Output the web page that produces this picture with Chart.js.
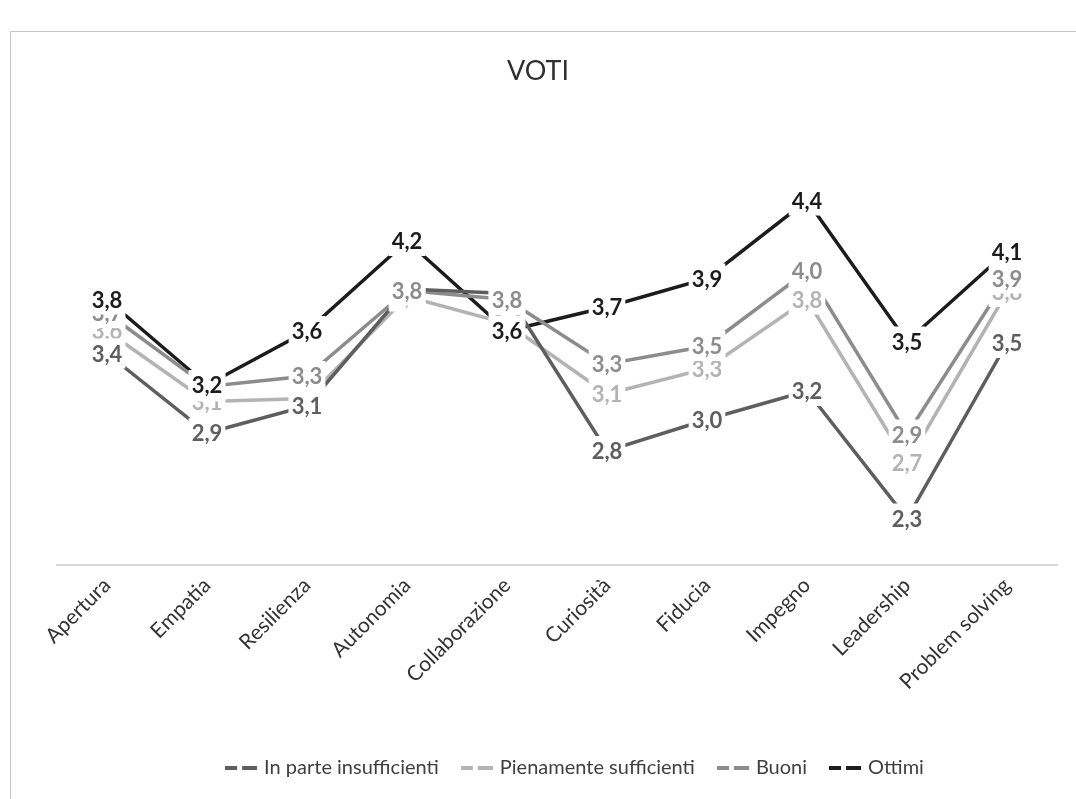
<!DOCTYPE html>
<html>
<head>
<meta charset="utf-8">
<title>VOTI</title>
<script src="https://cdn.jsdelivr.net/npm/chart.js@4.4.1/dist/chart.umd.min.js"></script>
<style>
  html, body { margin: 0; padding: 0; background: #fff; }
  #wrap { width: 1076px; height: 799px; position: relative; }
</style>
</head>
<body>
<div id="wrap"><canvas id="votiChart"></canvas></div>
<script>
const categorie = ['Apertura', 'Empatia', 'Resilienza', 'Autonomia', 'Collaborazione', 'Curiosità', 'Fiducia', 'Impegno', 'Leadership', 'Problem solving'];
const inParteInsufficienti = [3.41, 2.88, 3.06, 3.84, 3.81, 2.76, 2.97, 3.16, 2.31, 3.48];
const pienamenteSufficienti = [3.56, 3.09, 3.11, 3.79, 3.61, 3.14, 3.31, 3.77, 2.68, 3.82];
const buoni = [3.68, 3.19, 3.26, 3.83, 3.77, 3.34, 3.46, 3.96, 2.87, 3.91];
const ottimi = [3.77, 3.2, 3.56, 4.16, 3.56, 3.72, 3.91, 4.43, 3.49, 4.09];

const nomiSerie = ['In parte insufficienti', 'Pienamente sufficienti', 'Buoni', 'Ottimi'];
const coloriSerie = ['#5e5e5e', '#b3b3b3', '#8c8c8c', '#1c1c1c'];
// order in which the value labels are stacked (last one on top)
const ordineEtichette = [1, 0, 2, 3];
const FONT = 'Lato, "Open Sans", sans-serif';

// legend symbol: a line broken in the middle, like the series with its label
function simboloLegenda(colore) {
  const c = document.createElement('canvas');
  c.width = 32;
  c.height = 4;
  const g = c.getContext('2d');
  g.fillStyle = colore;
  g.fillRect(0, 0, 12, 4);
  g.fillRect(17, 0, 15, 4);
  return c;
}

// chart frame
const cornice = {
  id: 'cornice',
  beforeDraw(chart) {
    const ctx = chart.ctx;
    ctx.save();
    ctx.strokeStyle = '#c6c6c6';
    ctx.lineWidth = 1;
    ctx.strokeRect(10.5, 31.5, 1200, 1000);
    ctx.restore();
  }
};

// title centred on the page, legend pushed a little to the right
const spostaBlocchi = {
  id: 'spostaBlocchi',
  afterLayout(chart) {
    chart.titleBlock.left -= 19;
    chart.titleBlock.right -= 19;
    chart.legend.left += 19;
    chart.legend.right += 19;
  }
};

// value labels centred on the points, white box behind
const etichetteValori = {
  id: 'etichetteValori',
  afterDatasetsDraw(chart) {
    const ctx = chart.ctx;
    ctx.save();
    ctx.font = 'bold 22px ' + FONT;
    ctx.textAlign = 'center';
    ctx.textBaseline = 'middle';
    ordineEtichette.forEach(i => {
      const ds = chart.data.datasets[i];
      const meta = chart.getDatasetMeta(i);
      meta.data.forEach((pt, j) => {
        const txt = ds.data[j].toFixed(1).replace('.', ',');
        const w = ctx.measureText(txt).width + 6;
        ctx.fillStyle = '#fff';
        ctx.fillRect(pt.x - w / 2, pt.y - 15, w, 30);
        ctx.fillStyle = ds.borderColor;
        ctx.fillText(txt, pt.x, pt.y + 1);
      });
    });
    ctx.restore();
  }
};

const serie = [inParteInsufficienti, pienamenteSufficienti, buoni, ottimi];

new Chart(document.getElementById('votiChart'), {
  type: 'line',
  data: {
    labels: categorie,
    datasets: serie.map((valori, i) => ({
      label: nomiSerie[i],
      data: valori,
      borderColor: coloriSerie[i],
      backgroundColor: coloriSerie[i],
      borderWidth: 3.5,
      pointRadius: 0,
      pointHoverRadius: 0,
      pointStyle: simboloLegenda(coloriSerie[i]),
      tension: 0,
      fill: false
    }))
  },
  options: {
    responsive: true,
    maintainAspectRatio: false,
    animation: false,
    layout: { padding: { left: 57, right: 19, top: 0, bottom: 11 } },
    plugins: {
      title: {
        display: true,
        text: 'VOTI',
        color: '#303030',
        font: { family: '"Liberation Sans Narrow", ' + FONT, size: 27, weight: 'normal' },
        padding: { top: 55, bottom: 102.6 }
      },
      legend: {
        position: 'bottom',
        labels: {
          usePointStyle: true,
          pointStyleWidth: 26,
          padding: 25,
          color: '#404040',
          font: { family: FONT, size: 20 }
        }
      },
      tooltip: { enabled: false }
    },
    scales: {
      x: {
        offset: true,
        grid: { display: false },
        border: { display: true, color: '#d9d9d9', width: 2 },
        ticks: {
          minRotation: 45,
          maxRotation: 45,
          autoSkip: false,
          padding: 0,
          color: '#333333',
          font: { family: FONT, size: 21 }
        },
        afterFit(scale) { scale.height = 168; }
      },
      y: { display: false, min: 2, max: 4.5 }
    }
  },
  plugins: [cornice, spostaBlocchi, etichetteValori]
});
</script>
</body>
</html>
